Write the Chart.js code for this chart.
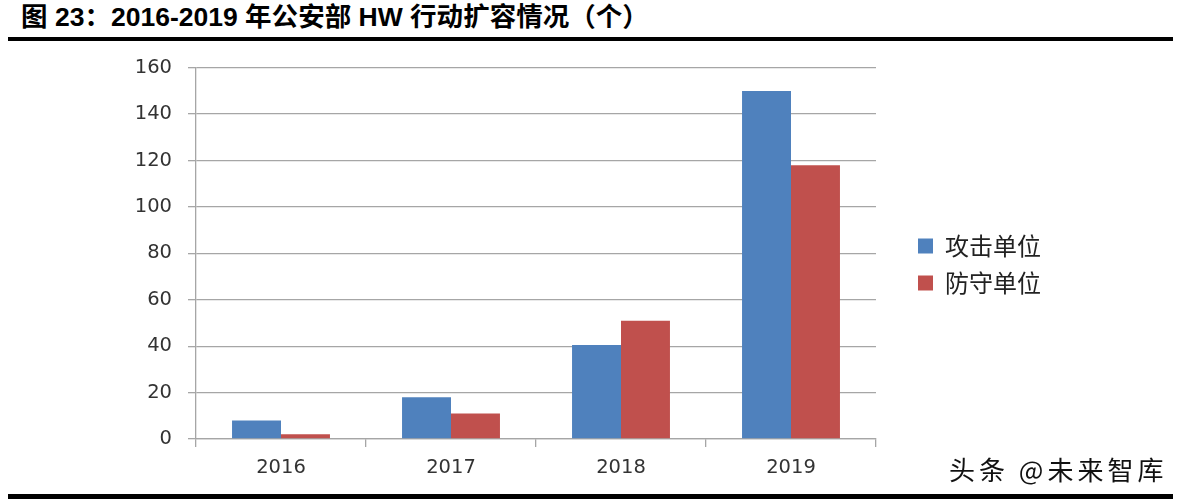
<!DOCTYPE html>
<html>
<head>
<meta charset="utf-8">
<script src="https://cdn.jsdelivr.net/npm/chart.js@4"></script>
<style>
  html, body { margin: 0; padding: 0; background: #fff; }
  body { width: 1181px; height: 504px; position: relative; overflow: hidden; }
  #title { position: absolute; left: 21px; top: 1px; font-family: "Liberation Sans", "Noto Sans CJK SC", sans-serif; font-weight: bold; font-size: 26px; line-height: 32px; color: #000; white-space: nowrap; transform-origin: 0 0; transform: scaleX(1.02); }
  #topline { position: absolute; left: 8px; top: 37px; width: 1165px; height: 4px; background: #000; }
  #botline { position: absolute; left: 8px; top: 494px; width: 1165px; height: 5px; background: #000; }
  #wrap { position: absolute; left: 0; top: 40px; width: 1181px; height: 444px; }
  #wm { position: absolute; left: 949px; top: 454px; font-family: "Noto Sans CJK SC", sans-serif; font-size: 26px; letter-spacing: 4px; color: #111; white-space: nowrap; text-shadow: 1px 1px 0 #fff, -1px -1px 0 #fff, 1px -1px 0 #fff, -1px 1px 0 #fff; line-height: 30px; }
</style>
</head>
<body>
<div id="title">图 23：2016-2019 年公安部 HW 行动扩容情况（个）</div>
<div id="topline"></div>
<div id="wrap"><canvas id="c"></canvas></div>
<div id="botline"></div>
<div id="wm">头条 @未来智库</div>
<script>
const categories = ["2016", "2017", "2018", "2019"];
const seriesNames = ["攻击单位", "防守单位"];
const attackValues = [8, 18, 40.5, 150];
const defenseValues = [2, 11, 51, 118];
const yTicks = [0, 20, 40, 60, 80, 100, 120, 140, 160];

const gridColor = "#a6a6a6";
const tickFont = { family: "DejaVu Sans", size: 19.5 };
const canvasTop = 40;

const legendPlace = {
  id: "legendPlace",
  beforeLayout(chart) {
    const L = chart.legend;
    if (L && !L._patched) {
      const orig = L.fit;
      L.fit = function () { orig.call(this); this.width = 305; };
      L._patched = true;
    }
  },
  afterLayout(chart) {
    const L = chart.legend;
    if (!L) return;
    L.left = chart.chartArea.right + 29;
    L.top = 234 - canvasTop - 13;
    L.bottom = 234 - canvasTop + 74;
  }
};

new Chart(document.getElementById("c"), {
  type: "bar",
  data: {
    labels: categories,
    datasets: [
      { label: seriesNames[0], data: attackValues, backgroundColor: "#4f81bd", borderWidth: 0 },
      { label: seriesNames[1], data: defenseValues, backgroundColor: "#c0504d", borderWidth: 0 }
    ]
  },
  options: {
    responsive: true,
    maintainAspectRatio: false,
    animation: false,
    devicePixelRatio: 1,
    layout: { padding: { top: 0, right: 0, bottom: 0, left: 0 } },
    datasets: { bar: { categoryPercentage: 0.576, barPercentage: 1.0 } },
    plugins: {
      title: { display: false },
      tooltip: { enabled: false },
      legend: {
        position: "right",
        align: "center",
        labels: {
          boxWidth: 15,
          boxHeight: 15,
          padding: 13,
          color: "#222",
          font: { family: "Noto Sans CJK SC", size: 24 }
        }
      }
    },
    scales: {
      x: {
        offset: true,
        grid: { display: true, drawOnChartArea: false, drawTicks: true, tickLength: 8, color: gridColor, lineWidth: 1.3, offset: true },
        border: { display: true, color: gridColor, width: 1.3 },
        ticks: { color: "#333", font: tickFont, padding: 9, maxRotation: 0 },
        afterFit(scale) { scale.height = 45; }
      },
      y: {
        min: 0,
        max: 160,
        afterBuildTicks(scale) { scale.ticks = yTicks.map(v => ({ value: v })); },
        grid: { color: gridColor, lineWidth: 1.3, tickLength: 8, drawTicks: true },
        border: { display: true, color: gridColor, width: 1.3 },
        ticks: { color: "#333", font: tickFont, padding: 16 },
        afterFit(scale) { scale.width = 196; }
      }
    }
  },
  plugins: [legendPlace]
});
</script>
</body>
</html>
